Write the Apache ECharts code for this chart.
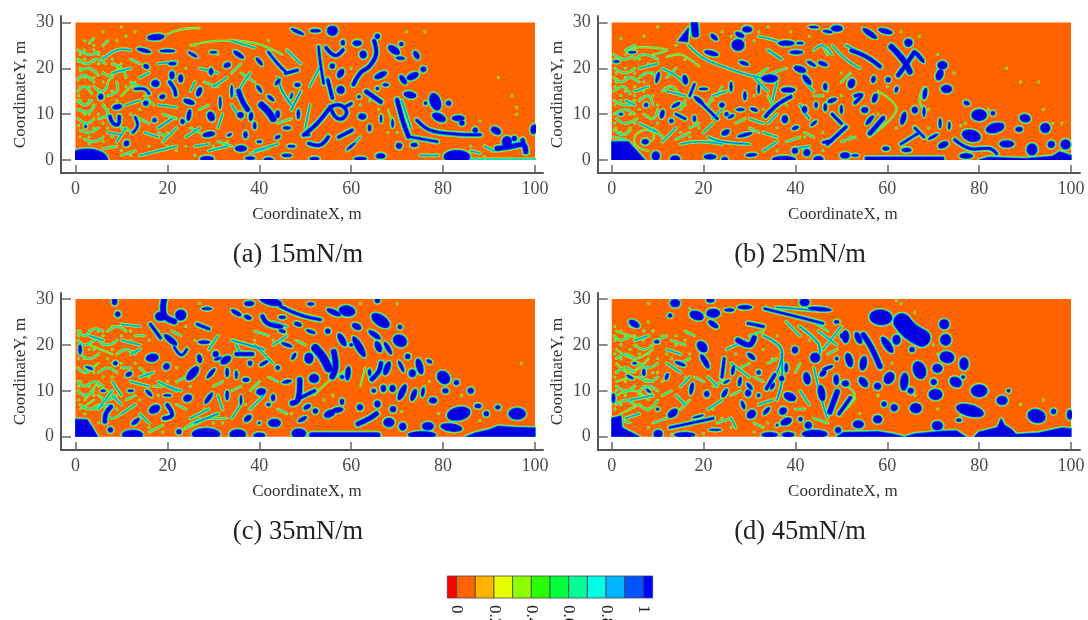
<!DOCTYPE html>
<html><head><meta charset="utf-8">
<script src="https://cdn.jsdelivr.net/npm/echarts@6/dist/echarts.min.js"></script>
<style>html,body{margin:0;background:#fff}#c{width:1088px;height:620px;filter:blur(.45px)}</style></head>
<body><div id="c"></div>
<script>
// ---- data: metres, [x,y,rx,ry,angle] ----
const blobsA=[[2.5,0,4.5,2.4,0],[17.5,26.8,1.8,.6,5],[14.9,23.9,1.5,.35,-15],[20,23.8,1.6,.25,0],[25.5,23,1.1,.25,-30],[30,23.5,.7,.2,0],[35.5,23,1.3,.4,-35],[33,20.7,.7,.5,20],[29.5,19.3,.4,.7,0],[15.4,20.4,.6,.4,-30],[21.1,21,.8,.3,0],[21,18.5,.5,.8,0],[22.9,17.8,.45,.8,0],[17.4,16.7,.8,.7,0],[26.9,14.9,1,.5,70],[24.7,12.7,1.2,.5,-20],[24.7,9.8,1.2,.4,80],[29.5,9.5,1,.7,-70],[29,5.6,1.3,.5,10],[35.9,9.8,.65,.6,0],[38.2,9.5,.9,.4,85],[9.1,11.6,1,.5,10],[17.2,8.7,.4,.4,0],[11.1,3.6,.6,.5,60],[15.3,12.4,.5,.5,0],[36,2.5,1.2,.6,0],[28.6,.3,1.4,.5,0],[23.3,8.4,.4,.5,0],[18.9,13.8,.6,.4,20],[5.5,13.8,.5,.6,0],[2.2,7.3,.2,.3,0],[40,15.5,.9,.3,-55],[42.5,13.5,.9,.3,-40],[44,17,.8,.3,50],[40,21.5,1,.3,-50],[47,14,.6,.2,70],[44,10,.4,.8,0],[46,7,.8,.3,0],[44,5,.6,.3,30],[40,4,.5,.2,0],[33.5,5.5,.5,.2,30],[37,5.5,.4,.7,0],[39,7.5,.3,.7,0],[31.5,12.5,.2,1.3,0],[34,15,.2,1.3,0],[48.3,16.4,.6,.4,0],[42,0,1,.5,0],[38,.4,1,.3,0],[46,1,1,.3,0],[55.9,28.2,1.1,1,0],[52.2,28.2,1.1,.3,0],[48.3,28,1.5,.3,-25],[61.3,25.5,.9,.55,0],[58.2,25.6,.4,.5,0],[62.6,23,.7,.8,0],[65.7,27,.5,.5,0],[69.3,24,1.4,.7,-35],[70.9,25.3,.4,.4,0],[70.7,22.2,.9,.3,-5],[74.2,22.9,.9,.5,-60],[75.7,19.8,.55,.55,0],[66.4,18.5,1.4,.55,25],[73.4,18.3,1.3,.65,25],[71.3,17.5,1.1,.5,-55],[57.7,18.9,1,.6,60],[55.9,20.5,.5,.5,0],[57.7,15.3,.8,.8,0],[67.5,16.4,.6,.3,0],[65.7,15.6,.3,.3,0],[61.7,13.8,.3,.3,0],[72.8,14.2,1.3,.65,-10],[78.3,12.7,1.9,1.1,-70],[81.2,12.4,.5,.5,0],[79.1,9.3,1.5,.8,-25],[83.3,9.1,1.3,.55,0],[84.1,8.1,.5,.5,0],[76.2,12.4,.3,.3,0],[70.4,3.1,.6,.6,0],[73.7,3.3,.7,.4,0],[87,6.5,.5,.5,0],[91.5,6.4,1.1,.7,-30],[99.7,6.7,1,.6,80],[93.9,4,1,1.1,0],[95.5,4.7,.5,.5,0],[83,.7,2.8,1.4,0],[62.4,9.5,.8,.6,0],[66.4,.9,1,.5,0],[48.5,10,.3,1,0],[50.5,5.5,.5,.3,0],[64,7,.3,.7,0],[66.5,9,.2,.8,0],[60,3,1.2,.2,40],[62,.3,1.3,.3,0],[69,8,.2,.9,0],[52,.3,1,.3,0],[47,3,.8,.25,0]];
const strokesA=[[.3,7.5,9.5,8.2,8,9.3,7.8,9.5,9.5],[.3,20.5,17,21.5,15.5,21.8,14.2],[.45,35.5,15,36.5,12.5,37.5,11],[.65,40.5,12,42,10.5,43,9],[.2,13,15.5,15,15.5,16,14.5],[.2,13,9.3,13.5,7.5,12.5,6],[-.05,20,27.5,23,28.5,27,28.8],[.3,54.5,24.5,56.5,22.8,58.2,24],[.35,65,26,65.4,23,64,20.5,62,19,60.5,16.5],[.2,52.9,24.7,53.3,21.1,54,16.7],[.3,54.9,17.5,55.9,13.5],[.4,63.3,14.9,66.4,12.7],[.25,74.3,8.7,77.2,6.5,82.3,5.7,88.1,5.5],[.4,70,13.1,71.4,8,72.5,5.1],[.2,72.5,5.1,78.7,4],[.45,91.7,2.5,94.6,2.9,97.5,3.3,98,1.8],[.4,97.3,4.3,98,1.8],[.05,85,.2,100,.2],[.35,49.7,5.5,52.6,8,55.5,11.6],[.3,55.5,11.6,57.5,12,59,10.5,58,9,56.5,9.5,55.5,11.6],[.25,58.5,11.5,60,12.3],[.3,50.8,3.6,53.3,3.3,55,5],[.3,57.3,5,60.2,6.5],[.25,45.7,18.9,48.3,19.6],[.2,42,23.5,44,21,46,19],[.15,44,18,45,15,47,12],[-.05,25,25,31,26,39,25.5,45,23],[.1,34,26,39,24.5],[.1,38,19,36,16,35,14],[.1,27,20,31,19],[.1,18,21,22,21.5],[.1,14,18,16,19],[.1,18,12,22,11.5],[.1,26,17,25,15],[.15,21,9,18,7],[.1,15,6,18,5],[.1,19,4,22,7],[.1,24,5,27,7],[.1,8,19,12,20],[.1,6,22,9,24,12,24],[-.05,10,21,7,17],[-.05,10,14,13,17],[.1,11,12,14,13],[.1,7,6,10,5.5],[.1,11,7,9,4],[.1,14,1,22,3],[.1,30,16,33,18],[.1,32,10,31,7],[.1,34,12,36,9],[.1,39,2,44,3.5],[.1,29,2,33,3],[.1,26,3,29,3.5],[.1,46,24,49,21],[.15,49,15,47,11],[.1,51,12,50,7],[.1,53,20,51,16],[-.05,68,11,69,8],[.1,71,13,73,7],[.1,59,2,62,5],[.1,75,1,79,1],[.1,89,3,91,2],[.1,86,2,88,1.5]];
const fineA=[[.5,24,3,23,5,23.5],[.5,22,2.5,21,4.5,22,6.5,21],[1,19.5,3,20,5,18.5],[.5,17.5,2,18.5,4,17],[.5,15,2,16,3.5,14.5],[4,16,6,15,7,16.5],[.5,13,2,12,3.5,13],[.5,11,3,10.5,4,12],[.5,9,2.5,8,4,9],[5,9,7,10,6,12],[1,6.5,3,6,5,7],[2,4.5,4,4,6,5],[7,14,9,15,9,17],[8,21,10,20,11,18],[6,19,8,18],[12,22,14,21],[10,7,13,6],[15,14,17,12],[12,17,14,16],[14,9,16,8],[19,10,22,9],[18,6,20,5],[25,7,27,6],[31,4,34,3],[27,11,29,12],[6,2.5,9,3],[10,1,13,2],[28,17,31,16],[34,19,36,21],[36,19,39,17],[44,8,47,9],[38,1.5,42,2.5],[6,25,7,26],[3,25.5,4,26.5]];
const specksA=[1,23,2,22,3,23,4,24,5,23,1,20,3,20,5,21,2,18,4,18,6,19,1,16,3,16,6,17,1,13,3,13,6,12,1,11,3,10,5,10,2,8,4,7,1,5,3,5,6,4,7,7,8,15,8,22,2,26,4,25,6,28,9,26,10,29,11,27,13,28,7,11,11,16,12,10,14,11,10,2,12,1,16,3,18,2,20,3,22,2,24,3,26,1,30,3,33,4,20,6,31,23,26,25,42,26,24,20,19,24,92,18,95,14,96,11.5,96,10,76,28,72,28,62,26,60,20,64,13,66,11,72,10,88,8.5,92,7,86,3,89,.7,62,12,68,6,70,6,.7,21.5,2,24,4,21.5,6,22.5,.8,18,5,15,.7,14,4,11.5,2,10,6,8,.7,7.5,3,3.5,8,5,9,13];
const polysA=[];

const blobsB=[[27.5,25.1,1.3,1.2,0],[29.5,28.5,1,.6,0],[27.9,27.3,1,.45,-25],[22.3,26.8,.9,.4,-40],[21.7,23.3,1.5,.45,-15],[28.8,21.1,1,.35,-20],[34.4,17.8,1.7,.8,0],[38.4,15.3,1.5,.5,0],[38,25.5,1.7,.5,0],[40.2,23.5,1.4,.35,0],[41,19.8,1.3,.6,-20],[42.5,17.5,1.3,.5,-50],[37.7,8.9,.6,.8,0],[29,5.5,1.6,.3,15],[24.8,6,.9,.5,30],[7.3,4,.7,.5,0],[13.8,.2,1,.7,0],[9.6,.9,.8,.9,0],[21.4,.7,1.3,.5,0],[24.6,.2,.6,.4,0],[37.5,.2,2.5,.6,0],[42.5,1.6,.7,.7,0],[45,.2,1,.6,0],[39.9,2,.6,.6,0],[30.4,1.1,1.2,.3,5],[10,18,.3,1.2,-15],[16,17.5,.5,1,10],[20,15.5,.9,.2,0],[19,13,1.3,.4,-40],[26,16,.25,1,0],[29,14,.3,.9,0],[32,15.5,.2,1,0],[31,11,.8,.3,-20],[28,11,.9,.25,0],[24,12,.5,.5,0],[25,10,.4,.4,0],[26,9.5,.7,.25,30],[14,12,.3,1,-60],[11,10,.4,.9,-15],[13,8.5,.4,.4,0],[18,9,.3,.6,0],[2,10,.4,.2,0],[7.5,12,.4,.4,0],[1,21.5,.6,.2,0],[4.5,23.5,.8,.2,0],[43.5,21,1,.3,-30],[47,28,1,.25,-10],[44,29,1,.2,-5],[41,25.5,.7,.2,0],[46,21,.4,1,70],[46.5,16,.4,.7,0],[42,11,.5,.7,0],[44.5,12,.3,.6,0],[46.5,11.5,.3,.8,0],[40,7,.7,.3,20],[47,4,1.2,.3,10],[44,8,.8,.25,40],[49,28.7,1.2,.6,0],[56.2,27.6,1.8,.5,-35],[59.6,28.1,1.5,.5,-15],[64.6,25.6,.8,.8,0],[67,22.5,1.6,.4,-50],[72,20.7,1,.8,0],[71.4,18.6,1.2,.7,70],[72.9,15.5,1.1,.8,0],[68.2,14.5,1.2,.4,80],[80,9.8,1.6,1.2,0],[77.3,12.4,.6,.4,-20],[83,10.2,.4,.4,0],[90,9.1,1.1,.8,-15],[88.7,6.7,.7,.5,0],[94.4,7,1,1,0],[83.5,7,2,1,15],[78.3,5.3,2,1.2,-15],[86,3.5,1.5,.7,0],[91.5,2.3,1.1,1.2,0],[95.7,3.4,.7,.7,0],[98.8,3.4,1,1,0],[77.2,.9,1.4,.5,0],[63.5,9.1,1.4,.5,75],[66,10.9,.6,.7,0],[56.2,8.7,1.2,.4,50],[52.2,16.7,1,.7,70],[57.3,13.5,1,.5,70],[55.1,10.9,.7,.6,0],[64.2,2.2,1,.4,0],[72.2,3.3,1.1,.6,25],[70,5.1,1.2,.25,30],[59.7,2.5,.7,.4,0],[62,15.4,.6,.3,70],[60.2,17.5,.5,.5,0],[57,17.6,.7,.4,80],[50.8,1,1,.6,0],[68,10.5,.25,1,0],[71.5,8,.25,1,0],[73.5,7.5,.2,.8,0],[53,1,.7,.2,0],[48,13,.4,1,-70],[50,11,.25,.9,0]];
const strokesB=[[.7,18,29.8,18.2,27.5],[.12,16.7,25,20,22.2,23.5,20.7,28.6,18.9,33,17.8],[.3,33.5,9.5,36,12,39,13.8],[-.05,7.5,3.8,9,4.5,9,6,7,6.5,5,5,5.5,3,8,2],[-.05,12,22.5,15,23,17,22,19,20.5],[-.05,9,23,12,24,5,24.5,3,23],[.1,11,20,13,19,14.5,18,16,16.5],[.2,18,16.5,17,14],[.2,19,13,23,9],[.2,14,10,16,9],[.15,21,5,24,4,30,3.5],[.1,15,3.5,19,4,24,3.5],[.1,33,6,36,5],[.1,34,8,36,10],[.1,35,13,36,17],[.15,41,12,43,9],[.25,48,10,50,8],[.1,42,17,44,15],[.1,48,25,51,22,54,20],[.35,52.2,23.9,55.5,22.5,58.4,20.4],[.15,51,25,54,23.5],[.55,60.9,24.7,63.5,21.8,64.9,19.3],[.4,65.9,23.5,64.2,21,62.4,18.5],[.25,74.7,4.4,78,2.5,82.3,2.5,83.8,1.4],[.35,55.5,.3,72,.3],[.4,56.2,5.8,59.1,9.1],[.3,47,3.5,51,7.2],[.3,53,14,54.4,14.2,53,12.5],[.2,63,3.5,67,6],[.2,66,7,68,5],[-.05,68,11,67,13,68,16],[-.05,58,15,62,11,56,5],[.1,44,24,46,25,48,23],[.15,34,24,37,22],[.1,32,27,36,26],[.1,25,15,22,14],[.1,30,9,33,8],[.1,22,9,24,11],[.1,6,8,10,6],[.1,11,4,14,7],[.1,5,15,8,16],[.1,3,13,5,12],[.1,6,20,10,21],[.1,16,14,12,15],[.1,31,18,34,15],[.1,20,6,22,8],[.1,40,2.5,43,3],[.1,33,2,36,4],[.1,2,2,3,1]];
const fineB=[[.5,23,2.5,22,4.5,22.5],[.7,20,3,19,5,20],[.5,18,2,17,4,18,6,17],[.5,15,2.5,16,4,14.5],[.5,13,3,12,5,13],[.5,10,3,11,5,10],[1,9,3,8,5.5,9],[.5,6.5,2.5,5.5,4,6.5],[.5,5,3,4.5],[6,13,8,14,9,12],[6,18,8,19,10,18],[5,22,7,23,10,22],[3,24,5,25],[7,10,9,9,10,11],[11,15,13,16,15,14],[12,18,14,20],[17,7,19,8],[15,11,16,13],[14,4.5,17,6],[21,12,22,14],[23,14,24,16],[30,7,32,6],[27,8,29,9],[34,14,35,12],[38,4,41,5],[42,6,44,5],[44,14,46,14],[50,17,52,19],[50,4,53,5],[11,5,9,7],[35,19,38,20],[31,18,34,20],[46,25,47,23]];
const specksB=[2,26.5,7,27,10,29,14,25,12,24,16,22,3,18,5,19,1,17,3,15,5,16,7,15,2,13,4,12,6,11,1,7,3,8,5,8,2,6,4,7,3,20,6,22,8,21,9,14,10,8,12,5,15,6,17,5,19,7,10,12,16,12,22,13,26,27,24,28,32,28,34,29,31,26,39,28,43,27,31,14,33,11,36,7,38,12,42,5,46,6,36,2,47,15,50,19,50,14,46,2,63,28,67,27,71,23,74.5,19,74,15.5,69,11,69,7,62,11,62,7,66,6,86,20,89,17,93,17,82,11,94,11,98,8,96,8,77,8,60,16,58,10,52,5,76,7.5,.7,22,1,19,.7,16,2,14,.7,12,4,10,.7,8,2,4.5,5,14,7,17,9,19];
const polysB=[[0,4,3.6,4,7.2,0,0,0],[14.5,26,16.7,28.8,16.5,25.8],[80,0,82,.6,90,.3,96,.8,97.5,1.8,100,1,100,0]];

const blobsC=[[18.5,26.2,1.1,.9,0],[22.9,26.5,1.1,1.1,0],[9.2,26.7,.5,.5,0],[8.5,29.5,.5,.8,0],[28.6,27.9,1,.25,0],[20.7,21.1,1.7,.55,-40],[16.7,17.2,1.3,.8,10],[19.8,15.3,.7,.6,45],[25.5,13.8,1.8,.8,50],[27,17,.9,.45,-80],[29.5,13.8,1.3,.35,50],[32.7,16.7,1.2,.7,35],[28,20.6,1.2,.3,0],[30.5,18,.6,.6,-30],[24.4,8.4,.9,.7,20],[29,8.4,1.4,.4,55],[17.2,6,1.2,.8,30],[7.6,1.5,.5,.5,0],[13.1,3.3,1,.4,40],[8.7,16,.4,.4,0],[11.6,13.6,.7,.4,30],[12.4,.4,2.2,1,0],[22.5,1.1,.5,.5,0],[28.4,.6,3,1.2,0],[35.3,.5,1.7,1,0],[40,.3,1.2,.5,0],[37.5,4,.9,.5,40],[43.3,3,1.3,.8,0],[37.1,12.4,.7,.4,0],[40.4,9.8,1,.7,10],[37.8,29,1,.5,0],[35,27,1.2,.4,-30],[37.5,26,.8,.4,-20],[42.5,29.5,2.5,.8,-15],[1,19,.3,1,0],[3,15,.8,.2,-20],[6,10,.5,.2,0],[12,10,.6,.2,0],[16,9.5,.3,.9,45],[20,9,.8,.2,0],[31,17,.8,.25,20],[33,14,.3,.9,0],[35,13.5,.25,.8,0],[38,16,.4,.5,0],[41,16,1,.3,30],[44,15,.4,.4,0],[46,12,1,.3,10],[33,9,.3,1,0],[36,8,.2,1,0],[42,7,.4,.3,0],[40,3,.2,.2,0],[43,8.5,.4,.7,0],[59.1,27.4,1.7,1.1,-10],[56.2,27.1,1.6,.5,-25],[66.4,25.3,2.2,1.1,-35],[61.2,24,1,.6,-25],[65.7,29.7,.5,.5,0],[65.1,22.2,1.5,.5,-35],[70.6,20.9,1.5,1.2,-30],[70.6,23.9,.4,.4,0],[58,21.1,1.5,.6,-60],[61.7,19.6,2.5,.7,-60],[65.9,19.6,1.2,.6,-65],[68,19.3,1.5,.4,-60],[72.3,17.5,.5,.5,0],[74.9,15.3,1.7,.65,-75],[77,16.4,.6,.3,-30],[80.1,12.9,1.5,1.2,-50],[82.9,11.8,.5,.5,0],[86,10,.6,.6,0],[80.5,10,.6,.5,0],[71.1,9.7,1.8,.6,65],[73.6,9.1,1.3,.5,70],[75.6,9.7,1,.3,80],[77.8,7.9,.8,.6,0],[73.3,13.8,.8,.7,90],[70.9,15.3,1.3,.3,-65],[83.4,5,2.5,1.4,12],[81.8,2,2.3,.8,-8],[96.1,5,1.8,1.2,0],[89.4,5,.5,.5,0],[87.6,6.7,.7,.4,0],[91.9,6.4,.5,.4,0],[76.7,2.3,1.2,.8,0],[71.2,2.2,.8,.7,90],[68.2,3.1,1.1,.9,0],[69.1,6,.6,.6,0],[65.7,7.1,.7,.6,90],[61.9,6.4,.6,.6,0],[57,5.8,1.2,.5,10],[55.3,5,1.2,.7,25],[58,7.6,.6,.4,90],[51.9,12.7,1,.9,0],[59.3,13.8,1.5,.5,85],[50.8,17.1,1.1,.9,90],[50.4,6.5,.8,.4,30],[49.4,3.8,1,.35,30],[48.6,.7,1.5,1,0],[52.2,5.6,.5,.5,0],[75.4,.4,3,.7,0],[67,10.5,.7,.5,90],[69,10.5,.7,.6,90],[64.9,10,.4,.4,0],[67.8,14.9,1.5,.6,70],[64,14,.7,.3,90],[54.9,23,.5,.5,0],[48.4,24.5,.8,.4,-20],[51.2,22.9,1,.3,-20],[45,23,.7,.3,-15],[51.2,28.9,.7,.3,0],[45,26,.7,.3,0],[58,13,.4,.4,0],[60,20,.3,.3,0],[47.5,17.5,.8,.3,60],[46,20,1.2,.3,-20]];
const strokesC=[[.55,19.3,30,19.3,26.5,21.5,25.1],[.25,26.5,24.5,29,23.5],[.2,21.5,19.5,23,17.8,24.2,19],[.25,16.3,24.5,18.5,21.5],[.35,35,18,38.5,18],[.35,20,6.9,21,4.7,19.3,4],[.4,7.7,6.5,6.6,5,6.4,3.3],[.4,40.7,26.2,41.8,24.7,44.7,24],[.25,44.6,28.4,49,26.5,53.3,25.5],[.45,61.5,2.8,64,4,65.5,5],[.8,52.2,19.3,53.7,17.5,55.1,14.9],[.55,56.2,18.5,56.6,15.3,55.9,13.1],[.5,48.8,12.4,48.4,8,47.2,7.3],[.3,48.4,8.2,52,10],[.55,51.5,.3,65.7,.3],[.4,64.5,12.5,66,14.2,66.5,16],[-.05,52,9,55,12,59,14.5],[-.05,62,11,63,15],[.1,10,24.5,14,24],[.1,10,21,14,20],[.1,12,18,14,19],[.1,14,13,17,14],[.1,12,12,16,11],[.1,18,12,22,10],[.1,10,7,8,9],[.1,13,7,10,5],[.1,16,3,14,5],[.1,20,11,23,10],[.1,25,4,29,6],[.15,26,3,31,5],[-.05,22,1,27,3],[.1,31,9,32,6],[.1,34,4,36,7],[.1,38,6,41,9],[.1,35,20,36,18],[.1,29,19,31,22],[.15,34,21,41,19],[.1,43,20,46,22],[.1,43,25,46,24],[.1,39,20,43,16],[.1,3,22,6,21],[-.05,2,8,5,12],[-.05,2,14,5,16],[-.05,3,20,8,18],[.1,5,6,8,10],[-.05,1,6,4,8],[.1,8,12,10,9]];
const fineC=[[.5,23,2,22,4,23.5,6,23],[.5,21,2,20,4,21],[5,21,7,20,9,21],[1,18,3,17,5,18],[.5,15,2,14,4,15],[5,14,7,15,9,14],[.5,12,2,11,4,12,6,11],[.5,10,2,9,4,10],[5,9,7,8,9,9],[1,7,3,6,5,7],[6,5,8,4,10,5],[9,18,11,19,13,18],[10,15,12,15],[14,15,16,13],[17,11,19,11],[22,7,24,6],[11,8,13,9],[16,1,19,2.5],[24,2,27,4],[22,12,24,13],[29,4,33,4],[34,10,36,11],[38,10,40,12],[42,13,44,12],[44,6,46,5],[30,11,32,12],[7,23,9,24,11,23],[13,22,15,22],[39,23,42,22],[48,21,50,20],[4,6,7,7],[21,23,23,22]];
const specksC=[1,23,2,22,3,23,4,21,5,23,6,22,1,20,3,19,6,20,2,17,5,18,7,17,8,19,10,22,12,23,2,15,4,14,6,13,8,13,1,12,3,11,5,11,7,10,2,9,4,9,6,8,10,16,13,16,12,21,16,21,18,23,5,3,9,6,14,8,18,9,16,2,19,1,27,29,27,24,24,24,26,21,20,12,22,15,25,11,28,6,30,3,32,3,33,10,36,1.5,37,7,39,21,43,21,97,16,76,11,77,12,71,5.5,79,5,84,9,88,3.5,92,1,62,29,70,29,56,9,54,8,47,5,.7,22,.7,17,.7,11,.7,8,2,5,8,16,8,24,4,19];
const polysC=[[0,3.8,2.5,3.7,3.5,2.2,4.8,0,0,0],[85,0,87,.8,90,1.5,92,2.3,96,2,100,1.9,100,0]];

const blobsD=[[4.9,24.6,1.2,.6,-30],[13.8,29.1,1,.8,0],[18.5,26.4,1.5,.9,-20],[22.1,26.9,1.4,.9,0],[22.1,24.5,1.2,.5,-35],[12.7,26.4,.4,.4,0],[21.5,29.7,.8,.4,0],[25.6,27.6,1,.3,0],[29,28.2,1.5,.4,0],[42,29.3,1,.8,0],[19.7,19.6,1.3,.9,-50],[20.3,16.4,1.7,.5,-60],[30.4,17.5,1,.4,-40],[45.3,27.8,2.5,.4,-5],[44.3,17.2,1,1,0],[39.9,18.9,.7,.6,90],[42.5,12.7,1.3,.7,-80],[45.7,9.5,1.7,.7,-80],[46,13.8,.8,.5,45],[48.9,12.4,1.1,.5,90],[38.8,8.7,1.3,.8,-25],[37.3,5.6,.8,.7,40],[38,3.3,1.2,.7,25],[42.8,2.5,.7,.7,0],[41.1,3.8,.4,.4,0],[37,12.7,.5,.5,0],[29.7,9.5,.7,.6,90],[24.6,9.5,1,.4,60],[30.4,4.9,1,.8,40],[33.7,5.6,1,.35,50],[28.6,6.9,.9,.3,-70],[20.7,9.3,.6,.5,90],[13.3,5.1,1.2,.7,40],[17.4,10.5,1.3,.35,80],[18.8,4.4,1.2,.15,15],[10.1,.6,.9,.8,0],[15.9,.4,2.2,.5,0],[22.5,1.5,1.3,.15,0],[34.4,.4,1.7,.5,0],[38.4,.4,1.3,.5,0],[44.2,.6,2.7,.8,0],[26.4,14.5,1,.3,80],[27.9,12,1,.3,80],[12,13.1,.7,.3,70],[14.9,15.9,1.2,.3,-20],[9.8,20.7,.5,.3,0],[.4,8.4,1,.3,90],[32,14,.4,.4,0],[35,11,.3,.8,-30],[38,15,.3,1,0],[30,11,.9,.3,-50],[25,12,.7,.2,30],[8,10,.6,.2,-40],[10,6,.3,.2,0],[5,16,.4,.2,0],[4,13,.8,.2,-30],[7,14,.3,.7,0],[32,9,.3,.3,0],[36,2.5,.2,.2,0],[58.6,26,2.4,1.6,-5],[72.4,24.5,1,1,0],[72.7,21.1,1.1,1.2,0],[73,17.3,1.5,1.2,-10],[76.7,15.9,1.3,.9,90],[62,21.1,1,.8,90],[60,20,2,.7,-55],[53.7,21.5,1.3,.6,-65],[50.9,21.8,1.3,.7,90],[54.8,16,1.5,.7,80],[51.7,16.7,1.5,.7,-75],[65.4,19,.5,.5,0],[67,14.5,1.9,1.3,-70],[70.9,14.9,1,.9,0],[60.4,12.8,1.3,1,60],[63.7,12,1.9,.8,85],[65.1,10,.6,.6,0],[54.8,11.9,1.2,.7,-50],[57.9,11,.7,.7,0],[50.9,11.6,.7,.6,0],[48.8,12.5,.9,.4,90],[70.1,11.9,.6,.6,0],[74.9,11.9,1.3,1,-30],[70.5,9.2,1.4,1.1,0],[80,10,1.7,1.3,0],[76.5,13,.3,.3,0],[85,7.9,1.1,.9,0],[86.4,10,.3,.3,0],[92.5,4.5,1.9,1.4,-15],[78,5.7,3,1.2,-15],[66.2,6.2,1.2,1,0],[61.5,6.3,.7,.7,0],[59.3,7.1,.5,.5,0],[57.9,3.8,.9,.8,0],[53.7,2.7,1.1,.8,0],[49.3,1.4,.6,.6,0],[70.9,2.4,1.1,.9,0],[75.6,3.6,.5,.3,0],[99.7,4.8,1,.5,90],[96.2,5.5,.5,.5,0],[50,22,.2,.5,0],[49,25,.5,.3,0],[49,17,.3,.3,0],[47,15,.3,1.2,-70]];
const strokesD=[[.5,27.5,21,30,20,31,21.5],[.2,33.3,27.9,37.3,26.9,41.7,25.8,46,24.7],[.15,35.9,28.2,40,27.9,44,27.5],[.25,29.7,24.7,33,24],[.15,40.9,24,44.9,20.4,45.3,18.2],[.3,33.7,10.5,35.5,13.5],[.2,12.7,2,17,2.9,22.1,4],[.25,24,13,24.5,17],[1.8,63.2,25,65,23,67.5,21.5],[.5,54.8,22.2,56.6,19.3,58.4,15.3],[.5,49.1,9.8,47.5,5.4],[.3,49.5,5,52,8.5],[-.05,50,12,53,9,51,6],[.15,33,22,37,19,36,14],[.15,36,8,37,12,37,18],[.1,25,19,29,21],[.1,26,16,30,13],[.1,38,25,41,22],[.1,44,15,46,7,47,4],[.1,12,19,15,18],[.1,12,16,15,14],[.1,17,13,15,11],[.1,21,13,23,11],[.1,8,22,5,21],[-.05,1,23,4,22,7,21],[-.05,1,19,5,17,9,19],[-.05,1,16,4,14,8,17],[-.05,1,12,5,13,9,12],[-.05,1,9,5,10,8,8],[.1,4,8,9,9],[-.05,2,5,6,7],[.1,6,5,3,4],[.1,14,9,16,7],[.1,21,6,24,8],[.1,26,4,27,2],[.1,32,7,35,8],[.1,41,10,43,7],[.1,45,23,49,20],[.1,46,19,50,24]];
const fineD=[[.5,22,2,21,4,22],[5,20,7,19,9,20],[1,17,3,18,5,17],[6,16,8,15,10,16],[1,14,3,15,5,14],[6,13,8,12,10,13],[1,11,3,10,5,11],[6,10,8,11,10,10],[1,7,3,8,5,7],[6,7,8,6,10,8],[10,21,12,22],[13,21,16,20],[17,17,15,16],[11,9,13,10],[18,13,20,12],[15,6,17,8],[23,3,26,4],[26,9,28,10],[31,13,33,12],[34,16,36,17],[33,2,31,3],[40,14,41,16],[44,4,47,3],[2,3.5,4,3],[9,3,12,4],[28,15,30,16],[22,11,24,12],[16,23,18,22],[30,22,33,23],[47,18,49,19],[40,6,42,6],[44,25,47,23]];
const specksD=[2,23,3,22,5,22,7,23,9,23,11,22,2,20,4,19,6,18,8,18,10,17,2,17,3,15,6,15,1,14,3,12,5,11,7,11,9,14,11,12,1,10,3,9,6,9,2,7,4,6,8,6,14,20,16,21,17,18,13,17,14,22,8,2,13,.5,20,.7,22,6,24,4,26,2,31,1,8,29,17,28,16,13,27,18,33,19,35,17,31,22,36,22,42,8,40,8,34,3,42,26,43,21,63,29,66,27,70,20,71,18,62,29.7,77,15,82,10,86,8,89,7,94,8,81,5,76,4.5,71,6,66,9,58,9,54,5,61,16,.7,24,.7,21,.7,18,4,24,8,25,.7,13,.7,6,12,18,10,14];
const polysD=[[0,4,2,4.5,2.2,2,6,0,0,0],[49,0,50.5,.9,58,1.1,61,.6,63.5,0],[64,0,66,.6,72,1.2,75,1.3,77,0],[79,0,80,1,84,2,84.8,3.9,85.5,2.5,87,1.6,88,.5,93,.8,98,1.9,100,1.7,100,0]];

const captions=['(a) 15mN/m','(b) 25mN/m','(c) 35mN/m','(d) 45mN/m'];
const xTicks=[0,20,40,60,80,100];
const yTicks=[0,10,20,30];
const barTicks=[0,0.2,0.4,0.6,0.8,1];
const barCells=[[-.05,0],[0,.1],[.1,.2],[.2,.3],[.3,.4],[.4,.5],[.5,.6],[.6,.7],[.7,.8],[.8,.9],[.9,1],[1,1.05]];
const barColors=['#ff0000','#ff6400','#ffb400','#e8ff00','#8cff00','#28ff00','#00ff3c','#00ff96','#00ffe6','#00b4ff','#0055ff','#0000ff'];

// ---- layout ----
const F='"Liberation Serif",serif';
const layers=[['#b8ee20',2.0],['#38e870',1.45],['#00d0e8',.9],['#0060f0',.45],['#0000e0',.05]];
const panels=[
 {b:blobsA,s:strokesA,f:fineA,k:specksA,p:polysA,ax:[61,16,482,157],pl:[75.5,22.5,459.5,137.5],xr:[-3.16,101.74],yr:[-2.84,31.42],cap:[298,242],nameP:[0,0,0,10]},
 {b:blobsB,s:strokesB,f:fineB,k:specksB,p:polysB,ax:[597.7,16,482.3,157],pl:[611.7,22.5,459.3,137.5],xr:[-3.05,101.96],yr:[-2.84,31.42],cap:[800,242],nameP:[0,0,0,8]},
 {b:blobsC,s:strokesC,f:fineC,k:specksC,p:polysC,ax:[61,293,482,157],pl:[75.5,299,459.5,137.7],xr:[-3.16,101.74],yr:[-2.9,31.31],cap:[298,519],nameP:[0,0,0,10]},
 {b:blobsD,s:strokesD,f:fineD,k:specksD,p:polysD,ax:[597.7,293,482.3,157],pl:[611.7,299,459.3,137.7],xr:[-3.05,101.96],yr:[-2.9,31.31],cap:[800,519],nameP:[0,0,0,8]}
];
const grid=[],xAxis=[],yAxis=[],series=[],title=[];
const pts=a=>{const o=[];for(let i=0;i<a.length;i+=2)o.push([a[i],a[i+1]]);return o;};
const PX=4.59;
panels.forEach((P,i)=>{
  const g=2*i;
  grid.push({left:P.ax[0],top:P.ax[1],width:P.ax[2],height:P.ax[3],show:false,outerBoundsMode:'none'});
  const lab={color:'#4a4a4a',fontFamily:F,fontSize:18};
  xAxis.push({gridIndex:g,type:'value',min:P.xr[0],max:P.xr[1],splitLine:{show:false},
    axisLine:{onZero:false,lineStyle:{color:'#555',width:2}},
    axisTick:{inside:true,length:8,customValues:xTicks,lineStyle:{color:'#666',width:1.5}},
    axisLabel:{...lab,margin:7,customValues:xTicks},
    name:'CoordinateX, m',nameLocation:'middle',nameGap:33,nameTextStyle:{color:'#333',fontFamily:F,fontSize:17,padding:P.nameP}});
  yAxis.push({gridIndex:g,type:'value',min:P.yr[0],max:P.yr[1],splitLine:{show:false},
    axisLine:{onZero:false,lineStyle:{color:'#555',width:2}},
    axisTick:{inside:true,length:10,customValues:yTicks,lineStyle:{color:'#666',width:1.5}},
    axisLabel:{...lab,margin:7,customValues:yTicks},
    name:'CoordinateY, m',nameLocation:'middle',nameGap:32,nameTextStyle:{color:'#333',fontFamily:F,fontSize:17}});
  grid.push({left:P.pl[0],top:P.pl[1],width:P.pl[2],height:P.pl[3],show:true,backgroundColor:'#ff6400',borderWidth:0,outerBoundsMode:'none'});
  xAxis.push({gridIndex:g+1,type:'value',min:0,max:100,show:false,splitLine:{show:false}});
  yAxis.push({gridIndex:g+1,type:'value',min:0,max:30,show:false,splitLine:{show:false}});
  const feats=[...pts(P.k).map(q=>({t:'e',v:[q[0],q[1],-.1,-.1,0]})),
               ...P.f.map(a=>({t:'s',w:-.12,v:pts(a)})),
               ...P.s.map(a=>({t:'s',w:a[0]<.16?a[0]-.14:a[0],v:pts(a.slice(1))})),
               ...P.b.map(a=>({t:'e',v:a})),
               ...P.p.map(a=>({t:'p',v:pts(a)}))];
  const anchors=feats.map(f=>f.t==='e'?[f.v[0],f.v[1]]:f.v[0]);
  layers.forEach(([col,off],li)=>{
    series.push({type:'custom',xAxisIndex:g+1,yAxisIndex:g+1,clip:true,silent:true,animation:false,progressive:0,
      data:anchors,z:2+li,
      renderItem(params,api){
        const f=feats[params.dataIndex];
        if(f.t==='e'){
          const c=api.coord([f.v[0],f.v[1]]);
          const rx=f.v[2]*PX+off, ry=f.v[3]*PX+off;
          if(rx<=.15||ry<=.15)return null;
          return {type:'ellipse',x:c[0],y:c[1],rotation:f.v[4]*Math.PI/180,shape:{cx:0,cy:0,rx,ry},style:{fill:col}};
        }
        if(f.t==='s'){
          const lw=2*(f.w*PX+off);
          if(lw<=.3)return null;
          return {type:'polyline',shape:{points:f.v.map(q=>api.coord(q)),smooth:.4},style:{stroke:col,fill:null,lineWidth:lw,lineCap:'round',lineJoin:'round'}};
        }
        return {type:'polygon',shape:{points:f.v.map(q=>api.coord(q))},style:{fill:col,stroke:col,lineWidth:2*off,lineJoin:'round'}};
      }});
  });
  title.push({text:captions[i],left:P.cap[0],top:P.cap[1],padding:0,textAlign:'center',textStyle:{fontFamily:F,fontWeight:'normal',fontSize:26.5,color:'#222'}});
});
// colour bar
grid.push({left:447.3,top:576,width:205.4,height:22,show:false,outerBoundsMode:'none'});
xAxis.push({gridIndex:8,type:'value',min:-.05,max:1.05,splitLine:{show:false},axisLine:{show:false},axisTick:{show:false},
  axisLabel:{rotate:-90,color:'#222',fontFamily:F,fontSize:17,margin:7,customValues:barTicks}});
yAxis.push({gridIndex:8,type:'value',min:0,max:1,show:false,splitLine:{show:false}});
series.push({type:'custom',xAxisIndex:8,yAxisIndex:8,silent:true,animation:false,data:barCells.map(c=>[c[0],c[1]]),
  renderItem(params,api){
    const a=api.coord([api.value(0),1]),b=api.coord([api.value(1),0]);
    return {type:'rect',shape:{x:a[0],y:a[1],width:b[0]-a[0],height:b[1]-a[1]},style:{fill:barColors[params.dataIndex],stroke:'#444',lineWidth:.8}};
  }});
echarts.init(document.getElementById('c'),null,{renderer:'canvas'}).setOption({animation:false,backgroundColor:'#fff',grid,xAxis,yAxis,series,title});
</script></body></html>
